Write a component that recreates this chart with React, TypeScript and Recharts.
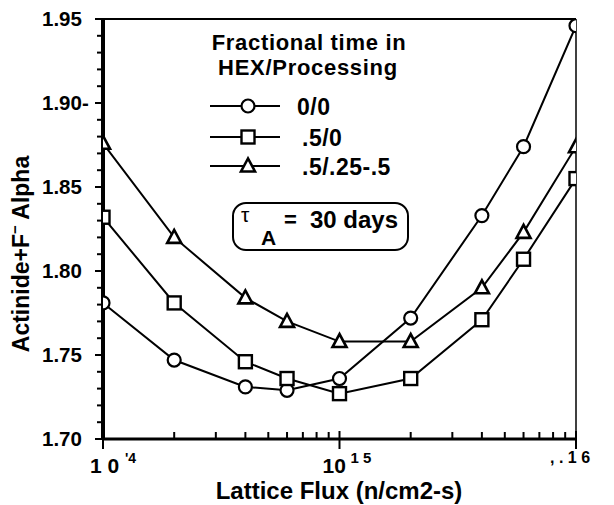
import { LineChart, Line, XAxis, YAxis, ReferenceLine } from "recharts";

// lattice flux (n/cm2-s)
const flux = [1e14, 2e14, 4e14, 6e14, 1e15, 2e15, 4e15, 6e15, 1e16];

// actinide + F- alpha for each fractional time in HEX/processing
const alpha00 = [1.781, 1.747, 1.731, 1.729, 1.736, 1.772, 1.833, 1.874, 1.946];
const alpha50 = [1.832, 1.781, 1.746, 1.736, 1.727, 1.736, 1.771, 1.807, 1.855];
const alpha5x = [1.876, 1.82, 1.784, 1.77, 1.758, 1.758, 1.79, 1.823, 1.874];

const seriesNames = ["0/0", ".5/0", ".5/.25-.5"];

const xTicks = [
  1e14, 2e14, 3e14, 4e14, 5e14, 6e14, 7e14, 8e14, 9e14,
  1e15, 2e15, 3e15, 4e15, 5e15, 6e15, 7e15, 8e15, 9e15, 1e16,
];
const xMajor = [1e14, 1e15, 1e16];
const xMajorBase = ["1 0", "10", ""];
const xMajorExp = ["'4", "1 5", ", . 1 6"];

const yTicks = [
  1.7, 1.71, 1.72, 1.73, 1.74, 1.75, 1.76, 1.77, 1.78, 1.79, 1.8, 1.81, 1.82,
  1.83, 1.84, 1.85, 1.86, 1.87, 1.88, 1.89, 1.9, 1.91, 1.92, 1.93, 1.94, 1.95,
];
const yMajor = [1.7, 1.75, 1.8, 1.85, 1.9, 1.95];
const yMajorLabels = ["1.70", "1.75", "1.80", "1.85", "1.90-", "1.95"];

const FONT = "'Liberation Sans', Arial, Helvetica, sans-serif";

const rows = flux.map((f, i) => ({
  flux: f,
  s0: alpha00[i],
  s1: alpha50[i],
  s2: alpha5x[i],
}));

// marker shapes, shared by lines and legend
function CircleMark({ cx, cy }: any) {
  return <circle cx={cx} cy={cy} r={6.5} fill="#fff" stroke="#000" strokeWidth={2.2} />;
}
function SquareMark({ cx, cy }: any) {
  return <rect x={cx - 6.5} y={cy - 6.5} width={13} height={13} fill="#fff" stroke="#000" strokeWidth={2.4} />;
}
function TriangleMark({ cx, cy }: any) {
  return (
    <polygon
      points={`${cx},${cy - 7.5} ${cx - 7},${cy + 5.5} ${cx + 7},${cy + 5.5}`}
      fill="#fff"
      stroke="#000"
      strokeWidth={2.6}
    />
  );
}
const marks = [CircleMark, SquareMark, TriangleMark];

// label offsets for the decade ticks: [base dx, exp dx, exp size]
const decadeLayout = [
  [-13, 22, 14],
  [-17, 11, 15],
  [0, -26, 16],
];

function XTick({ x, y, payload }: any) {
  const i = xMajor.indexOf(payload.value);
  if (i < 0) {
    return <line x1={x} x2={x} y1={y - 1} y2={y - 7} stroke="#000" strokeWidth={2} />;
  }
  const [bdx, edx, esz] = decadeLayout[i];
  return (
    <g fontFamily={FONT} fontWeight="bold" fill="#000">
      <line x1={x} x2={x} y1={y - 8} y2={y + 10} stroke="#000" strokeWidth={2} />
      {xMajorBase[i] && (
        <text x={x + bdx} y={y + 34} fontSize={21}>
          {xMajorBase[i]}
        </text>
      )}
      <text x={x + edx} y={y + 24} fontSize={esz}>
        {xMajorExp[i]}
      </text>
    </g>
  );
}

function YTick({ x, y, payload }: any) {
  const i = yMajor.findIndex((v) => Math.abs(v - payload.value) < 1e-6);
  if (i < 0) {
    return <line x1={x} x2={x - 6} y1={y} y2={y} stroke="#000" strokeWidth={2} />;
  }
  return (
    <g>
      <line x1={x + (i === 0 ? 6 : 0)} x2={x - 8} y1={y} y2={y} stroke="#000" strokeWidth={2} />
      <text
        x={x - 61}
        y={y + 7}
        fontFamily={FONT}
        fontWeight="bold"
        fontSize={20.5}
        fill="#000"
      >
        {yMajorLabels[i]}
      </text>
    </g>
  );
}

function Overlay() {
  const rowY = [106, 137, 166];
  return (
    <svg
      width={614}
      height={505}
      style={{ position: "absolute", left: 0, top: 0, pointerEvents: "none" }}
      fontFamily={FONT}
      fontWeight="bold"
    >
      {/* legend title */}
      <text x={309} y={50} textAnchor="middle" fontSize={22} letterSpacing={0.7}>
        Fractional time in
      </text>
      <text x={308} y={75} textAnchor="middle" fontSize={22} letterSpacing={0.7}>
        HEX/Processing
      </text>
      {seriesNames.map((name, i) => {
        const Mark = marks[i];
        return (
          <g key={name}>
            <line x1={210} x2={280} y1={rowY[i]} y2={rowY[i]} stroke="#000" strokeWidth={2} />
            <Mark cx={248} cy={rowY[i]} />
            <text x={i === 0 ? 297 : 302} y={rowY[i] + 9} fontSize={23} letterSpacing={0.5}>
              {name}
            </text>
          </g>
        );
      })}

      {/* tau box */}
      <rect x={233} y={203} width={175} height={47} rx={13} fill="#fff" stroke="#000" strokeWidth={2} />
      <text x={241} y={222} fontSize={21} fontWeight="normal">
        τ
      </text>
      <text x={261} y={245} fontSize={21}>
        A
      </text>
      <text x={284} y={227} fontSize={22}>
        =
      </text>
      <text x={310} y={228} fontSize={24}>
        30 days
      </text>

      {/* axis titles */}
      <text x={339} y={499} textAnchor="middle" fontSize={24}>
        Lattice Flux (n/cm2-s)
      </text>
      <text transform="translate(29,254) rotate(-90)" textAnchor="middle" fontSize={23}>
        Actinide+F
        <tspan dy={-9} fontSize={15}>
          −
        </tspan>
        <tspan dy={9}> Alpha</tspan>
      </text>
    </svg>
  );
}

export default function App() {
  const keys = ["s0", "s1", "s2"];
  return (
    <div style={{ position: "absolute", left: 0, top: 0, width: 614, height: 505, background: "#fff" }}>
      <LineChart width={614} height={505} data={rows} margin={{ top: 19, right: 38, bottom: 0, left: 0 }}>
        <XAxis
          dataKey="flux"
          type="number"
          scale="log"
          domain={[1e14, 1e16]}
          ticks={xTicks}
          interval={0}
          height={66}
          tickSize={0}
          tickMargin={0}
          tickLine={false}
          axisLine={{ stroke: "#000", strokeWidth: 3 }}
          tick={(p: any) => <XTick {...p} />}
          allowDataOverflow
        />
        <YAxis
          type="number"
          domain={[1.7, 1.95]}
          ticks={yTicks}
          interval={0}
          width={103}
          tickSize={0}
          tickMargin={0}
          tickLine={false}
          axisLine={{ stroke: "#000", strokeWidth: 4 }}
          tick={(p: any) => <YTick {...p} />}
          allowDataOverflow
        />
        <ReferenceLine y={1.95} stroke="#000" strokeWidth={2} />
        <ReferenceLine x={1e16} stroke="#000" strokeWidth={1.5} />
        {keys.map((k, i) => {
          const Mark = marks[i];
          return (
            <Line
              key={k}
              dataKey={k}
              name={seriesNames[i]}
              stroke="#000"
              strokeWidth={2}
              isAnimationActive={false}
              dot={(p: any) => <Mark key={`${k}-${p.index}`} cx={p.cx} cy={p.cy} />}
            />
          );
        })}
      </LineChart>
      <Overlay />
    </div>
  );
}
